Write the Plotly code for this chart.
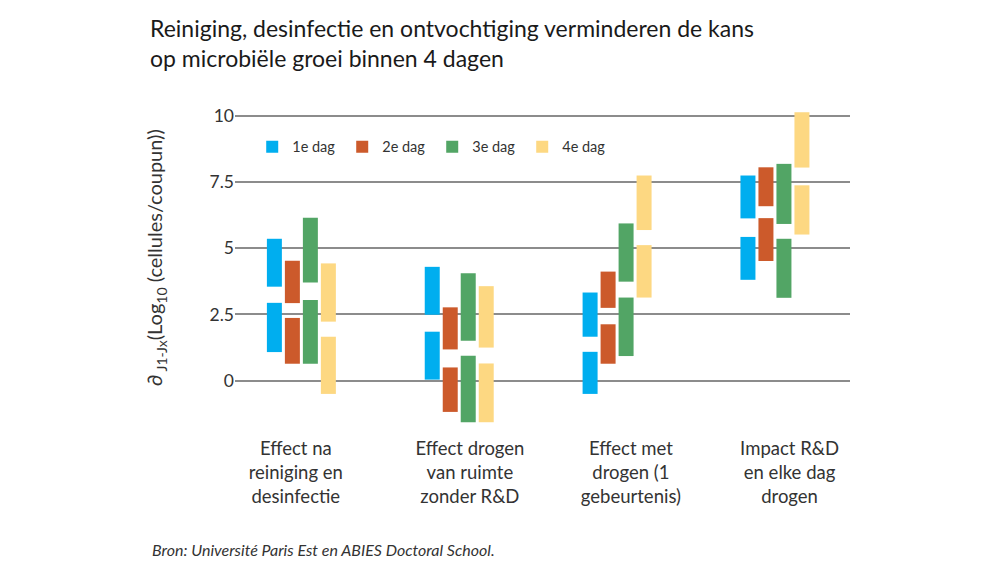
import plotly.graph_objects as go

# categories (x axis) and series
groups = ["Effect na<br>reiniging en<br>desinfectie",
          "Effect drogen<br>van ruimte<br>zonder R&D",
          "Effect met<br>drogen (1<br>gebeurtenis)",
          "Impact R&D<br>en elke dag<br>drogen"]
days = ["1e dag", "2e dag", "3e dag", "4e dag"]

# (from, to) per group: lower segment and upper segment of each range bar
dag1_lower = [(1.08, 2.94), (0.04, 1.85), (-0.50, 1.09), (3.81, 5.43)]
dag1_upper = [(3.55, 5.36), (2.49, 4.30), (1.66, 3.33), (6.13, 7.75)]
dag2_lower = [(0.64, 2.37), (-1.18, 0.50), (0.64, 2.13), (4.52, 6.14)]
dag2_upper = [(2.93, 4.53), (1.18, 2.77), (2.75, 4.12), (6.59, 8.06)]
dag3_lower = [(0.64, 3.05), (-1.57, 0.94), (0.93, 3.14), (3.13, 5.36)]
dag3_upper = [(3.71, 6.15), (1.51, 4.06), (3.74, 5.94), (5.92, 8.19)]
dag4_lower = [(-0.50, 1.66), (-1.57, 0.65), (3.14, 5.12), (5.52, 7.38)]
dag4_upper = [(2.23, 4.43), (1.25, 3.57), (5.69, 7.75), (8.05, 10.14)]

y_ticks = [0, 2.5, 5, 7.5, 10]
y_ticktext = ["0", "2.5", "5", "7.5", "10"]

colors = ["#00aeef", "#cc5a2b", "#52a565", "#fdd882"]
offsets = [-0.218, -0.104, 0.010, 0.124]
label_shift = [-0.035, 0.068, 0.088, 0.093]  # text labels sit a bit off the bar groups
FONT = "Lato, 'Open Sans', sans-serif"

series = [(dag1_lower, dag1_upper), (dag2_lower, dag2_upper),
          (dag3_lower, dag3_upper), (dag4_lower, dag4_upper)]

fig = go.Figure()
for i, (lower, upper) in enumerate(series):
    segs = lower + upper
    xs = list(range(len(groups))) * 2
    fig.add_trace(go.Bar(
        x=xs,
        base=[a for a, b in segs],
        y=[b - a for a, b in segs],
        name=days[i],
        marker=dict(color=colors[i], line=dict(width=0)),
        width=0.095,
        offset=offsets[i],
    ))

# the page body adds ~8px around the figure, so margins are pulled in by that much
fig.update_layout(
    width=1000, height=573,
    template="simple_white",
    barmode="overlay",
    paper_bgcolor="white", plot_bgcolor="white",
    margin=dict(l=227, r=158, t=100, b=153.5),
    font=dict(family=FONT, color="#333333"),
    title=dict(text="Reiniging, desinfectie en ontvochtiging verminderen de kans<br>op microbiële groei binnen 4 dagen",
               x=0.142, xanchor="left", xref="container", y=0.949, yanchor="top", yref="container",
               font=dict(size=23, color="#1a1a1a", family=FONT)),
    legend=dict(orientation="h", x=0.028, xanchor="left", y=0.878, yanchor="middle",
                font=dict(size=14.5, color="#333333"), bgcolor="rgba(0,0,0,0)",
                entrywidth=45, entrywidthmode="pixels", itemclick=False),
    showlegend=True,
)
fig.update_xaxes(range=[-0.42, 3.476], showline=False, ticks="", automargin=False,
                 tickvals=[i + d for i, d in enumerate(label_shift)], ticktext=groups,
                 ticklabelstandoff=8,
                 tickfont=dict(size=18.5, color="#333333"), showgrid=False, zeroline=False)
fig.update_yaxes(range=[-1.75, 10.3], showline=False, ticks="", automargin=False,
                 tickvals=y_ticks, ticktext=y_ticktext,
                 tickfont=dict(size=17.5, color="#333333"),
                 showgrid=True, gridcolor="#8c8c8c", gridwidth=1.5, zeroline=False)

# rotated y-axis title
fig.add_annotation(text="∂<sub> J1-Jx</sub>(Log<sub>10</sub> (cellules/coupun))",
                   xref="paper", yref="paper", x=-0.128, y=0.53, textangle=-90,
                   xanchor="center", yanchor="middle", showarrow=False,
                   font=dict(size=20, color="#333333"))

fig.add_annotation(text="<i>Bron: Université Paris Est en ABIES Doctoral School.</i>",
                   xref="paper", yref="paper", x=-0.138, y=-0.385, xanchor="left", yanchor="middle",
                   showarrow=False, font=dict(size=16, color="#333333"))

fig.write_html("out.html")
